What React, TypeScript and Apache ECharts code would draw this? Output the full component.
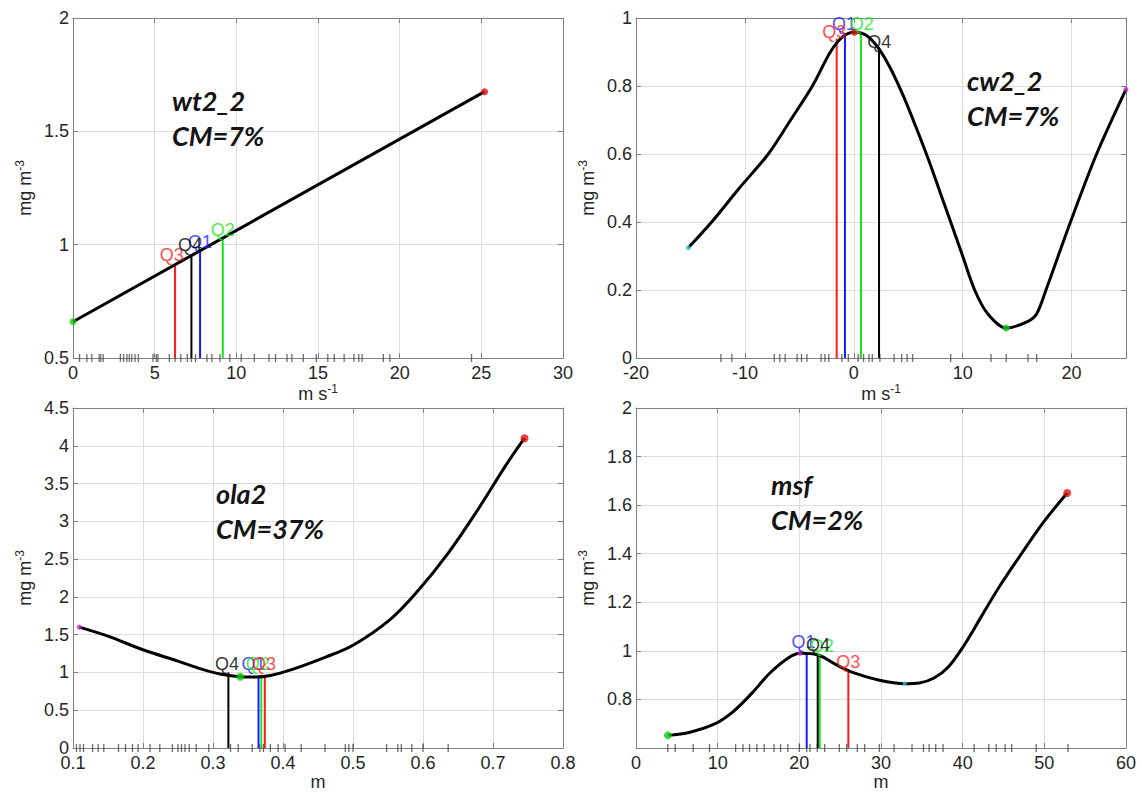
import React, { useEffect, useRef } from "react";
import * as echarts from "echarts";

// ---------------- DATA ----------------
const qNames = ["Q1", "Q2", "Q3", "Q4"];

// Panel 1: wt2_2
const p1Title = ["wt2_2", "CM=7%"];
const p1Curve = [[0, 0.66], [25.2, 1.675]];
const p1Dots = [[0, 0.66], [25.2, 1.675]];
const p1QX = [7.78, 9.17, 6.25, 7.25];
const p1QTop = [0.97, 1.03, 0.91, 0.955];
const p1QLabelX = [7.78, 9.17, 6.04, 7.16];
const p1QLabelY = [1.013, 1.065, 0.954, 0.998];
const p1Rug = [0.4, 0.85, 1.15, 1.6, 1.7, 1.85, 2.9, 3.1, 3.3, 3.45, 3.6, 3.8, 4.0, 4.9, 5.1, 5.2, 5.9, 6.25, 6.6, 7.0, 7.25, 7.5, 8.2, 8.5, 9.0, 9.6, 10.3, 11.1, 12.0, 12.4, 13.1, 13.4, 14.1, 14.9, 15.6, 16.0, 16.6, 17.2, 17.5, 17.7, 19.0, 19.4, 24.4];

// Panel 2: cw2_2
const p2Title = ["cw2_2", "CM=7%"];
const p2Curve = [[-15.2, 0.324], [-13.05, 0.4], [-10.5, 0.5], [-7.85, 0.6], [-5.8, 0.7], [-3.8, 0.8], [-2.15, 0.9], [-1.0, 0.945], [0.05, 0.958], [1.2, 0.948], [2.3, 0.91], [3.4, 0.85], [4.56, 0.77], [5.7, 0.68], [6.9, 0.58], [7.9, 0.49], [8.9, 0.4], [10.0, 0.3], [11.1, 0.2], [12.3, 0.13], [14.0, 0.088], [16.0, 0.108], [16.8, 0.13], [17.65, 0.2], [19.9, 0.4], [22.3, 0.6], [25.0, 0.79]];
const p2Dots = [[-15.2, 0.324], [0.05, 0.958], [14.0, 0.088], [25.0, 0.79]];
const p2QX = [-0.81, 0.66, -1.57, 2.32];
const p2QTop = [0.955, 0.96, 0.94, 0.915];
const p2QLabelX = [-0.9, 0.73, -1.79, 2.35];
const p2QLabelY = [0.982, 0.982, 0.958, 0.93];
const p2Rug = [-12.2, -11.2, -7.3, -6.8, -6.3, -5.2, -4.8, -4.3, -3.0, -2.65, -2.3, -1.1, -0.5, 0.4, 0.9, 1.4, 1.7, 2.4, 3.7, 4.4, 4.9, 5.4, 8.9, 12.6, 14.0, 16.0, 16.8];

// Panel 3: ola2
const p3Title = ["ola2", "CM=37%"];
const p3Curve = [[0.109, 1.6], [0.15, 1.48], [0.2, 1.3], [0.25, 1.15], [0.285, 1.04], [0.31, 0.98], [0.339, 0.944], [0.36, 0.94], [0.382, 0.96], [0.41, 1.03], [0.46, 1.2], [0.5, 1.36], [0.553, 1.7], [0.59, 2.05], [0.636, 2.58], [0.678, 3.15], [0.719, 3.75], [0.745, 4.1]];
const p3Dots = [[0.109, 1.6], [0.339, 0.944], [0.745, 4.1]];
const p3QX = [0.365, 0.369, 0.374, 0.322];
const p3QTop = [0.944, 0.944, 0.944, 1.0];
const p3QLabelX = [0.358, 0.364, 0.373, 0.32];
const p3QLabelY = [1.11, 1.11, 1.11, 1.11];
const p3Rug = [0.105, 0.11, 0.115, 0.128, 0.136, 0.144, 0.165, 0.175, 0.185, 0.193, 0.21, 0.224, 0.242, 0.25, 0.255, 0.26, 0.266, 0.276, 0.294, 0.325, 0.336, 0.356, 0.367, 0.372, 0.382, 0.393, 0.403, 0.426, 0.46, 0.489, 0.494, 0.5, 0.548, 0.564, 0.569, 0.584, 0.6, 0.636];

// Panel 4: msf
const p4Title = ["msf", "CM=2%"];
const p4Curve = [[3.9, 0.652], [6.6, 0.665], [9.7, 0.7], [11.9, 0.75], [14.2, 0.826], [16.4, 0.909], [18.6, 0.97], [20.1, 0.99], [22.2, 0.984], [24.5, 0.943], [26.7, 0.909], [29.8, 0.879], [32.9, 0.865], [34.7, 0.868], [36.5, 0.888], [38.3, 0.936], [40.1, 1.019], [42.3, 1.142], [44.6, 1.27], [47.3, 1.405], [49.9, 1.53], [52.8, 1.65]];
const p4Dots = [[3.9, 0.652], [20.1, 0.99], [32.9, 0.866], [52.8, 1.65]];
const p4QX = [20.9, 22.5, 26.0, 22.25];
const p4QTop = [0.99, 0.976, 0.914, 0.983];
const p4QLabelX = [20.5, 22.75, 26.0, 22.3];
const p4QLabelY = [1.038, 1.02, 0.955, 1.024];
const p4Rug = [3.9, 4.8, 7.0, 9.0, 12.2, 13.1, 13.9, 14.8, 15.7, 16.9, 17.7, 18.6, 20.0, 20.9, 21.3, 22.2, 23.1, 24.9, 25.8, 27.1, 28.0, 29.8, 31.6, 33.8, 35.2, 35.9, 36.7, 37.6, 41.4, 43.2, 44.1, 45.2, 46.0, 49.0, 52.9];

// Axis ranges [min, max, interval]
const p1X = [0, 30, 5];
const p1Y = [0.5, 2, 0.5];
const p2X = [-20, 25, 10];
const p2Y = [0, 1, 0.2];
const p3X = [0.1, 0.8, 0.1];
const p3Y = [0, 4.5, 0.5];
const p4X = [0, 60, 10];
const p4Y = [0.6, 2, 0.2];

// ---------------- STYLE ----------------
const C = {
  red: "#ff1a1a",
  blue: "#1a1aff",
  green: "#19e619",
  black: "#000000",
  dotGreen: "#14c814",
  dotRed: "#e01010",
  cyan: "#22cccc",
  magenta: "#cc22cc",
};
const qColors = [C.blue, C.green, C.red, C.black];
const p1DotStyle = [[C.dotGreen, 7], [C.dotRed, 7]];
const p2DotStyle = [[C.cyan, 5], [C.dotRed, 7], [C.dotGreen, 7], [C.magenta, 5]];
const p3DotStyle = [[C.magenta, 5], [C.dotGreen, 8], [C.dotRed, 8]];
const p4DotStyle = [[C.dotGreen, 8], [C.magenta, 5], [C.cyan, 4], [C.dotRed, 8]];

const FONT = "Liberation Sans";
const AXIS_COLOR = "#808080";
const GRID_COLOR = "#dedede";
const LABEL_COLOR = "#262626";

const layouts = [
  { left: 73, top: 18 },
  { left: 636, top: 18 },
  { left: 73, top: 408 },
  { left: 636, top: 408 },
];
const titlePos = [
  [172, 100, 135],
  [967, 80, 115],
  [216, 493, 528],
  [771, 484, 519],
];

function App() {
  const ref = useRef<HTMLDivElement>(null);
  useEffect(() => {
    document.body.style.margin = "0";
    const chart = echarts.init(ref.current!, null, { renderer: "svg" });

    const panels = [
      { curve: p1Curve, dots: p1Dots, dotStyle: p1DotStyle, qx: p1QX, qt: p1QTop, lx: p1QLabelX, ly: p1QLabelY, rug: p1Rug, xr: p1X, yr: p1Y, xname: "ms", title: p1Title, smooth: false, yMinLabel: true, xMaxLabel: true },
      { curve: p2Curve, dots: p2Dots, dotStyle: p2DotStyle, qx: p2QX, qt: p2QTop, lx: p2QLabelX, ly: p2QLabelY, rug: p2Rug, xr: p2X, yr: p2Y, xname: "ms", title: p2Title, smooth: 0.3, yMinLabel: true, xMaxLabel: false },
      { curve: p3Curve, dots: p3Dots, dotStyle: p3DotStyle, qx: p3QX, qt: p3QTop, lx: p3QLabelX, ly: p3QLabelY, rug: p3Rug, xr: p3X, yr: p3Y, xname: "m", title: p3Title, smooth: 0.35, yMinLabel: true, xMaxLabel: true },
      { curve: p4Curve, dots: p4Dots, dotStyle: p4DotStyle, qx: p4QX, qt: p4QTop, lx: p4QLabelX, ly: p4QLabelY, rug: p4Rug, xr: p4X, yr: p4Y, xname: "m", title: p4Title, smooth: 0.35, yMinLabel: false, xMaxLabel: true },
    ];

    const grid: any[] = [];
    const xAxis: any[] = [];
    const yAxis: any[] = [];
    const series: any[] = [];
    const graphic: any[] = [];

    const axisLine = { show: true, onZero: false, lineStyle: { color: AXIS_COLOR, width: 1 } };
    const axisTick = { show: true, inside: true, length: 5, lineStyle: { color: AXIS_COLOR } };
    const labelStyle = { color: LABEL_COLOR, fontSize: 18, fontFamily: FONT };
    const nameRich = {
      a: { fontSize: 18, fontFamily: FONT, color: LABEL_COLOR },
      b: { fontSize: 12, fontFamily: FONT, color: LABEL_COLOR, padding: [0, 0, 10, 0] },
    };

    panels.forEach((p, i) => {
      grid.push({ left: layouts[i].left, top: layouts[i].top, width: 490, height: 340, show: false });
      const [xmin, xmax, xint] = p.xr;
      const [ymin, ymax, yint] = p.yr;
      xAxis.push({
        type: "value", gridIndex: i, position: "bottom", min: xmin, max: xmax, interval: xint,
        axisLine, axisTick,
        axisLabel: { ...labelStyle, margin: 6, showMaxLabel: p.xMaxLabel },
        splitLine: { show: true, lineStyle: { color: GRID_COLOR, width: 1 } },
        name: p.xname === "ms" ? "{a|m s}{b|-1}" : "{a|m}",
        nameLocation: "middle",
        nameGap: p.xname === "ms" ? 25 : 19,
        nameTextStyle: { rich: nameRich },
      });
      xAxis.push({
        type: "value", gridIndex: i, position: "top", min: xmin, max: xmax, interval: xint,
        axisLine, axisTick, axisLabel: { show: false }, splitLine: { show: false },
      });
      yAxis.push({
        type: "value", gridIndex: i, position: "left", min: ymin, max: ymax, interval: yint,
        axisLine, axisTick,
        axisLabel: { ...labelStyle, margin: 4, showMinLabel: p.yMinLabel },
        splitLine: { show: true, lineStyle: { color: GRID_COLOR, width: 1 } },
        name: "{a|mg m}{b|-3}",
        nameLocation: "middle",
        nameRotate: 90,
        nameGap: 37,
        nameTextStyle: { rich: nameRich },
      });
      yAxis.push({
        type: "value", gridIndex: i, position: "right", min: ymin, max: ymax, interval: yint,
        axisLine, axisTick, axisLabel: { show: false }, splitLine: { show: false },
      });

      const xi = 2 * i;
      const yi = 2 * i;

      // rug ticks
      series.push({
        type: "scatter", xAxisIndex: xi, yAxisIndex: yi, silent: true, clip: false,
        symbol: "rect", symbolSize: [1.3, 8],
        itemStyle: { color: "#4a4a4a" },
        data: p.rug.map((x) => [x, ymin]),
        z: 3,
      });

      // quartile vertical lines
      qNames.forEach((q, k) => {
        series.push({
          type: "line", xAxisIndex: xi, yAxisIndex: yi, silent: true, symbol: "none",
          lineStyle: { color: qColors[k], width: 2 },
          data: [[p.qx[k], ymin], [p.qx[k], p.qt[k]]],
          z: 4,
        });
      });

      // curve
      series.push({
        type: "line", xAxisIndex: xi, yAxisIndex: yi, silent: true, symbol: "none",
        smooth: p.smooth,
        lineStyle: { color: "#000", width: 3 },
        data: p.curve,
        z: 5,
      });

      // dots
      series.push({
        type: "scatter", xAxisIndex: xi, yAxisIndex: yi, silent: true, clip: false,
        data: p.dots.map((d, k) => ({
          value: d,
          symbolSize: p.dotStyle[k][1],
          itemStyle: { color: p.dotStyle[k][0] },
        })),
        z: 6,
      });

      // quartile labels
      series.push({
        type: "scatter", xAxisIndex: xi, yAxisIndex: yi, silent: true, clip: false,
        symbolSize: 1,
        itemStyle: { color: "rgba(0,0,0,0)" },
        data: qNames.map((q, k) => ({
          name: q,
          value: [p.lx[k], p.ly[k]],
          label: { color: qColors[k] },
        })),
        label: {
          show: true, position: "inside", formatter: "{b}",
          fontSize: 18, fontFamily: FONT,
        },
        labelLayout: { hideOverlap: false },
        z: 7,
      });

      // panel titles
      const [tx, ty1, ty2] = titlePos[i];
      [p.title[0], p.title[1]].forEach((t, k) => {
        graphic.push({
          type: "text", x: tx, y: k === 0 ? ty1 : ty2, z: 10,
          style: {
            text: t, fill: "#141414",
            font: "italic bold 27px Lato",
            verticalAlign: "middle", align: "left",
          },
        });
      });
    });

    chart.setOption({
      animation: false,
      backgroundColor: "#ffffff",
      grid, xAxis, yAxis, series, graphic,
    });
    return () => chart.dispose();
  }, []);
  return <div ref={ref} style={{ width: 1142, height: 794 }} />;
}

export default App;
